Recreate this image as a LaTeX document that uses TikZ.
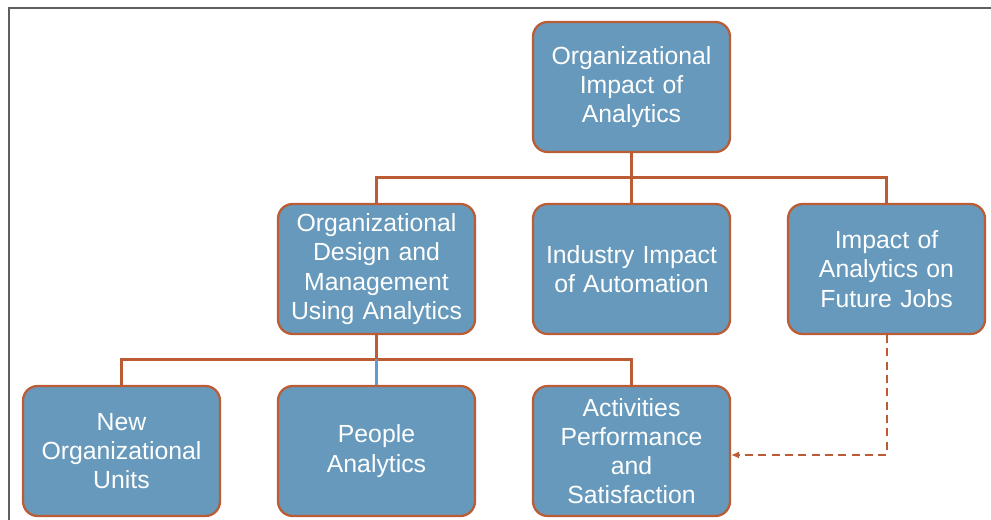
\documentclass[tikz,border=0pt]{standalone}
\usepackage{fontspec}
\setmainfont{Liberation Sans}
\usepackage{tikz}
\usetikzlibrary{arrows.meta,positioning,calc}

\definecolor{boxfill}{RGB}{102,153,187}
\definecolor{rust}{RGB}{187,92,52}
\definecolor{linkblue}{RGB}{95,155,210}
\definecolor{framegray}{RGB}{95,95,95}

\tikzset{
  topic/.style={draw=rust, line width=1.7pt, fill=boxfill, rounded corners=11pt,
    minimum width=147.75pt, minimum height=97.5pt, text width=140pt, align=center,
    text=white, font=\fontsize{18.6}{21.9}\selectfont},
  conn/.style={draw=rust, line width=2.3pt},
  bluelink/.style={draw=linkblue, line width=1.6pt},
  dasharrow/.style={draw=rust, line width=1.5pt, dash pattern=on 6pt off 4pt,
    -{Latex[length=6pt,width=5.5pt]}}
}

\begin{document}
\begin{tikzpicture}[x=0.75pt,y=-0.75pt]
  \useasboundingbox (0,0) rectangle (991,520);
  \draw[framegray, line width=1.5pt] (9,520) -- (9,8) -- (991,8);

  \node[topic] (top) at (631.5,87) {Organizational\\Impact of\\Analytics};
  \node[topic] (design) at (376.5,269) {Organizational\\Design and\\Management\\Using Analytics};
  \node[topic] (auto) at (631.5,269) {Industry Impact\\of Automation};
  \node[topic] (jobs) at (886.5,269) {Impact of\\Analytics on\\Future Jobs};
  \node[topic] (units) at (121.5,451) {New\\Organizational\\Units};
  \node[topic] (people) at (376.5,451) {People\\Analytics};
  \node[topic] (activities) at (631.5,451) {Activities\\Performance\\and\\Satisfaction};

  \draw[conn] (top.south) -- ++(0,24) -| (design.north);
  \draw[conn] (top.south) -- ++(0,24) -| (jobs.north);
  \draw[conn] (top.south) -- (auto.north);

  \draw[conn] (design.south) -- ++(0,24) coordinate (bus) -| (units.north);
  \draw[conn] (design.south) -- ++(0,24) -| (activities.north);
  \draw[bluelink] (bus) -- (people.north);

  \draw[dasharrow] (jobs.south) |- ([yshift=-3pt]activities.east); % jobs -> activities
\end{tikzpicture}
\end{document}
